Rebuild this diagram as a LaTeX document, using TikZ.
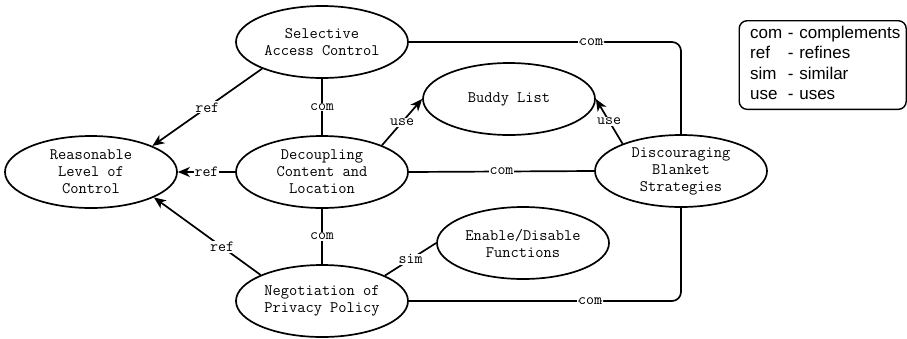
\documentclass[tikz,border=0pt]{standalone}
\usepackage{fontspec}
\setmainfont{Liberation Sans}
\usetikzlibrary{shapes.geometric,arrows.meta}

\begin{document}
\begin{tikzpicture}[x=1pt,y=-1pt,
  usecase/.style={ellipse,draw,line width=1.7pt,minimum width=172pt,minimum height=72pt,
    inner sep=1pt,align=center,font=\ttfamily\fontsize{16}{17}\selectfont},
  link/.style={line width=1.7pt},
  refarrow/.style={link,-{Stealth[length=12pt,width=10pt,inset=3.5pt]}},
  lbl/.style={fill=white,inner sep=1pt,font=\ttfamily\fontsize{15.5}{16}\selectfont},
  legendbox/.style={draw,line width=1.4pt,rounded corners=8pt,anchor=north west,
    minimum height=87pt,text width=145pt,inner xsep=11pt,align=left,
    font=\fontsize{17}{20.5}\selectfont},
]
\useasboundingbox (0,0) rectangle (907,338);

% use cases
\node[usecase] (sac) at (322,42)  {Selective\\Access Control};
\node[usecase] (rlc) at (91,172)  {Reasonable\\Level of\\Control};
\node[usecase] (dcl) at (322,172) {Decoupling\\Content and\\Location};
\node[usecase] (bl)  at (509,99)  {Buddy List};
\node[usecase] (dbs) at (681,171) {Discouraging\\Blanket\\Strategies};
\node[usecase] (edf) at (523,243) {Enable/Disable\\Functions};
\node[usecase] (npp) at (322,301) {Negotiation of\\Privacy Policy};

% relations
\draw[refarrow] (sac.204) -- node[lbl]{ref} (rlc.23);
\draw[link] (sac.south) -- node[lbl]{com} (dcl.north);
\draw[refarrow] (dcl.24) -- node[lbl]{use} (bl.west);
\draw[refarrow] (dbs.155) -- node[lbl]{use} (bl.east);
\draw[refarrow] (dcl.west) -- node[lbl]{ref} (rlc.east);
\draw[link] (dcl.east) -- node[lbl]{com} (dbs.west);
\draw[link,rounded corners=9pt] (sac.east) -| node[lbl,pos=0.335]{com} (dbs.north);
\draw[refarrow] (npp.157) -- node[lbl,pos=0.36]{ref} (rlc.-22);
\draw[link] (dcl.south) -- node[lbl]{com} (npp.north);
\draw[link] (npp.22) -- node[lbl]{sim} (edf.west);
\draw[link,rounded corners=9pt] (npp.east) -| node[lbl,pos=0.333]{com} (dbs.south);

% legend
\node[legendbox] (legend) at (738.5,20) {%
  \begin{tabular}{@{}l@{ }l@{}}
  com & - complements\\
  ref & - refines\\
  sim & - similar\\
  use & - uses
  \end{tabular}};
\end{tikzpicture}
\end{document}
